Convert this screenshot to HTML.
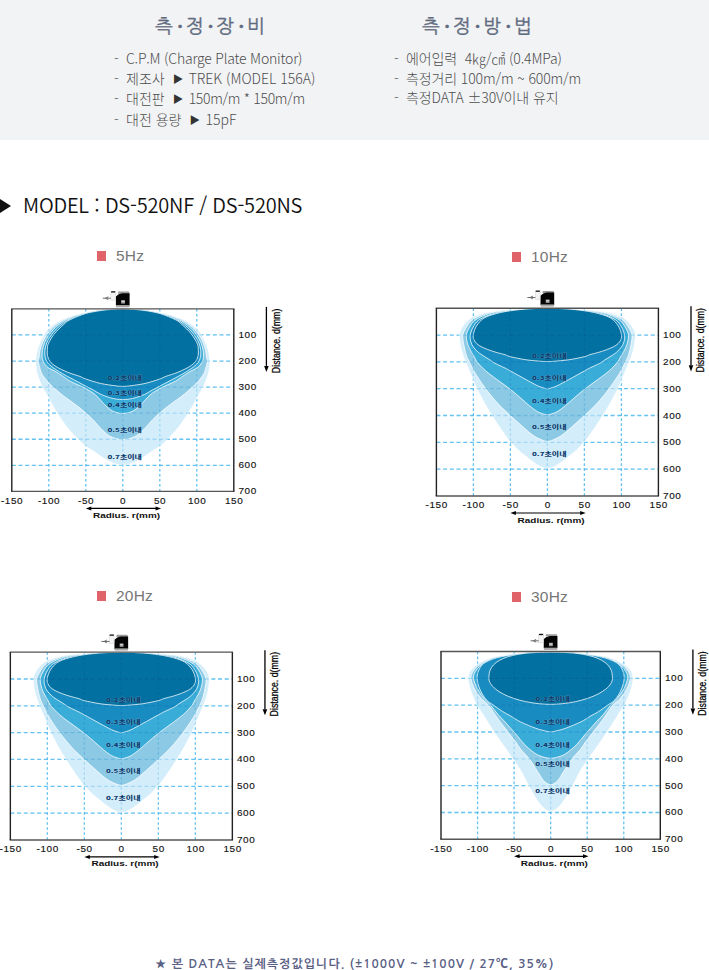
<!DOCTYPE html>
<html lang="ko">
<head>
<meta charset="utf-8">
<title>측정장비 / 측정방법 - DS-520NF / DS-520NS</title>
<style>
html,body{margin:0;padding:0;background:#fff;}
body{width:709px;height:970px;position:relative;overflow:hidden;font-family:"Liberation Sans","Noto Sans CJK KR",sans-serif;}
.band{position:absolute;left:0;top:0;width:709px;height:140px;background:#f2f3f5;}
.ttl{position:absolute;top:13px;font-family:"NanumGothic","Noto Sans CJK KR",sans-serif;font-weight:400;font-size:19px;line-height:28px;color:#5f6b7f;white-space:nowrap;-webkit-text-stroke:0.35px #5f6b7f;}
.ttl i{font-style:normal;display:inline-block;width:12.8px;text-align:center;font-size:15px;position:relative;top:-2px;}
.list{position:absolute;top:49px;margin:0;padding:0;list-style:none;font-family:"Noto Sans CJK KR",sans-serif;font-weight:300;font-size:14px;line-height:19.5px;color:#4d4d4d;white-space:nowrap;}
.list li{position:relative;padding-left:12px;}
.list li:before{content:"-";position:absolute;left:0;top:0;}
.list .ar{font-size:10.5px;display:inline-block;margin:0 5.5px 0 8px;position:relative;top:-1px;color:#333;}
.model{position:absolute;left:0;top:190px;font-family:"Noto Sans CJK KR",sans-serif;font-weight:350;font-size:20px;line-height:30px;color:#111;white-space:nowrap;letter-spacing:-0.2px;}
.model .tri{display:inline-block;width:0;height:0;border-top:7px solid transparent;border-bottom:7px solid transparent;border-left:11px solid #111;margin-right:12px;position:relative;top:0px;}
.hz{position:absolute;font-family:"Liberation Sans","Noto Sans CJK KR",sans-serif;font-size:15.5px;line-height:20px;color:#777;white-space:nowrap;letter-spacing:0.2px;}
.hz b{display:inline-block;width:9px;height:10px;background:#df6369;margin-right:10px;vertical-align:0px;}
.foot{position:absolute;left:155px;top:954.5px;font-family:"NanumGothic","Noto Sans CJK KR",sans-serif;font-weight:700;font-size:12px;line-height:18px;color:#596084;white-space:nowrap;letter-spacing:1.05px;}
svg{position:absolute;left:0;top:0;}
svg text.lbl{font-family:"Noto Sans CJK KR",sans-serif;font-weight:900;font-size:7px;fill:#0e3c6e;text-anchor:middle;stroke:#fff;stroke-width:0.8px;stroke-opacity:0.25;paint-order:stroke;}
svg text.tk{font-family:"Liberation Sans",sans-serif;font-weight:400;font-size:8.3px;fill:#111;stroke:#111;stroke-width:0.12px;letter-spacing:0.5px;}
svg text.ax{font-family:"Liberation Sans",sans-serif;font-weight:700;font-size:8px;fill:#111;}
svg text.ax2{font-family:"Liberation Sans",sans-serif;font-weight:400;font-size:10px;fill:#000;stroke:#000;stroke-width:0.25px;}
</style>
</head>
<body>
<div class="band"></div>
<div class="ttl" style="left:155px">측<i>•</i>정<i>•</i>장<i>•</i>비</div>
<div class="ttl" style="left:422px">측<i>•</i>정<i>•</i>방<i>•</i>법</div>
<ul class="list" style="left:114px">
<li style="letter-spacing:-0.2px">C.P.M (Charge Plate Monitor)</li>
<li>제조사<span class="ar">▶</span>TREK (MODEL 156A)</li>
<li>대전판<span class="ar">▶</span><span style="letter-spacing:-0.3px">150m/m * 150m/m</span></li>
<li>대전 용량<span class="ar">▶</span>15pF</li>
</ul>
<ul class="list" style="left:394px;letter-spacing:-0.12px">
<li>에어입력 &nbsp;4㎏/㎠ (0.4MPa)</li>
<li>측정거리 100m/m ~ 600m/m</li>
<li>측정DATA ±30V이내 유지</li>
</ul>
<div class="model"><span class="tri"></span>MODEL : DS-520NF / DS-520NS</div>
<div class="hz" style="left:97px;top:246px"><b></b>5Hz</div>
<div class="hz" style="left:512px;top:247px"><b></b>10Hz</div>
<div class="hz" style="left:97px;top:586px"><b></b>20Hz</div>
<div class="hz" style="left:512px;top:587px"><b></b>30Hz</div>
<svg width="709" height="970" viewBox="0 0 709 970">
<clipPath id="c1"><rect x="11.80" y="308.90" width="222.00" height="182.49"/></clipPath>
<g clip-path="url(#c1)">
<path d="M48.80,308.90 V491.39 M85.80,308.90 V491.39 M122.80,308.90 V491.39 M159.80,308.90 V491.39 M196.80,308.90 V491.39" stroke="#88d4f5" stroke-width="1.3" stroke-dasharray="2.7 2.3" fill="none"/><path d="M11.80,334.97 H233.80 M11.80,361.04 H233.80 M11.80,387.11 H233.80 M11.80,413.18 H233.80 M11.80,439.25 H233.80 M11.80,465.32 H233.80" stroke="#88d4f5" stroke-width="1.3" stroke-dasharray="4 2.7" fill="none"/>
<path d="M122.80,308.64 C115.40,308.64 107.73,309.13 100.60,309.94 C93.47,310.75 84.87,312.50 80.03,313.49 C75.18,314.48 74.87,314.71 71.52,315.89 C68.16,317.06 63.66,318.45 59.90,320.53 C56.14,322.60 51.66,325.74 48.95,328.32 C46.23,330.90 45.35,333.05 43.62,336.01 C41.89,338.98 39.87,342.47 38.59,346.10 C37.31,349.73 36.39,354.67 35.92,357.81 C35.46,360.95 35.53,362.20 35.78,364.95 C36.02,367.71 36.34,370.69 37.40,374.34 C38.46,377.99 40.49,383.33 42.14,386.85 C43.79,390.37 45.65,392.50 47.32,395.45 C48.98,398.41 50.48,401.62 52.13,404.58 C53.78,407.53 55.10,409.88 57.24,413.18 C59.37,416.48 62.35,420.96 64.93,424.39 C67.51,427.82 69.47,430.30 72.70,433.78 C75.93,437.25 80.89,442.38 84.32,445.25 C87.75,448.11 90.50,449.11 93.27,450.98 C96.05,452.85 98.38,454.76 100.97,456.46 C103.56,458.15 106.22,459.86 108.81,461.15 C111.40,462.44 114.18,463.55 116.51,464.20 C118.84,464.85 120.70,465.06 122.80,465.06 C124.90,465.06 126.76,464.85 129.09,464.20 C131.42,463.55 134.20,462.44 136.79,461.15 C139.38,459.86 142.04,458.15 144.63,456.46 C147.22,454.76 149.55,452.85 152.33,450.98 C155.10,449.11 157.85,448.11 161.28,445.25 C164.71,442.38 169.67,437.25 172.90,433.78 C176.13,430.30 178.09,427.82 180.67,424.39 C183.25,420.96 186.23,416.48 188.36,413.18 C190.50,409.88 191.82,407.53 193.47,404.58 C195.12,401.62 196.62,398.41 198.28,395.45 C199.94,392.50 201.81,390.37 203.46,386.85 C205.11,383.33 207.14,377.99 208.20,374.34 C209.26,370.69 209.58,367.71 209.82,364.95 C210.07,362.20 210.14,360.95 209.68,357.81 C209.21,354.67 208.29,349.73 207.01,346.10 C205.73,342.47 203.71,338.98 201.98,336.01 C200.25,333.05 199.37,330.90 196.65,328.32 C193.94,325.74 189.46,322.60 185.70,320.53 C181.94,318.45 177.44,317.06 174.08,315.89 C170.73,314.71 170.42,314.48 165.57,313.49 C160.72,312.50 152.13,310.75 145.00,309.94 C137.87,309.13 130.20,308.64 122.80,308.64 Z" fill="#d4edfa" stroke="#fff" stroke-opacity="0.9" stroke-width="0.85"/>
<path d="M122.80,308.64 C115.40,308.64 107.83,309.16 100.60,310.07 C93.37,310.99 85.35,312.57 79.41,314.11 C73.47,315.66 69.33,317.16 64.96,319.33 C60.60,321.50 56.26,324.54 53.22,327.15 C50.17,329.76 48.49,332.36 46.69,334.97 C44.89,337.58 43.52,340.18 42.41,342.79 C41.29,345.40 40.55,348.22 40.00,350.61 C39.45,353.00 39.41,355.39 39.11,357.13 C38.82,358.87 38.08,359.17 38.22,361.04 C38.35,362.91 39.27,366.12 39.92,368.34 C40.57,370.56 40.88,372.16 42.14,374.34 C43.40,376.51 45.68,379.29 47.47,381.37 C49.26,383.46 50.16,384.39 52.87,386.85 C55.58,389.30 59.99,393.15 63.75,396.10 C67.51,399.06 71.81,401.82 75.44,404.58 C79.07,407.34 82.53,410.10 85.50,412.66 C88.48,415.22 90.70,417.31 93.27,419.96 C95.85,422.61 98.38,425.97 100.97,428.56 C103.56,431.15 106.22,433.82 108.81,435.50 C111.40,437.17 114.18,437.95 116.51,438.60 C118.84,439.25 120.70,439.41 122.80,439.41 C124.90,439.41 126.76,439.25 129.09,438.60 C131.42,437.95 134.20,437.17 136.79,435.50 C139.38,433.82 142.04,431.15 144.63,428.56 C147.22,425.97 149.75,422.61 152.33,419.96 C154.90,417.31 157.12,415.22 160.10,412.66 C163.07,410.10 166.53,407.34 170.16,404.58 C173.79,401.82 178.09,399.06 181.85,396.10 C185.61,393.15 190.02,389.30 192.73,386.85 C195.44,384.39 196.34,383.46 198.13,381.37 C199.92,379.29 202.20,376.51 203.46,374.34 C204.72,372.16 205.03,370.56 205.68,368.34 C206.33,366.12 207.25,362.91 207.38,361.04 C207.52,359.17 206.78,358.87 206.49,357.13 C206.19,355.39 206.15,353.00 205.60,350.61 C205.05,348.22 204.31,345.40 203.19,342.79 C202.08,340.18 200.71,337.58 198.91,334.97 C197.11,332.36 195.43,329.76 192.38,327.15 C189.34,324.54 185.00,321.50 180.64,319.33 C176.27,317.16 172.13,315.66 166.19,314.11 C160.25,312.57 152.23,310.99 145.00,310.07 C137.77,309.16 130.20,308.64 122.80,308.64 Z" fill="#8cc9e5" stroke="#fff" stroke-opacity="0.9" stroke-width="0.85"/>
<path d="M122.80,308.64 C115.40,308.64 107.57,309.29 100.60,310.20 C93.63,311.12 86.60,312.59 81.00,314.11 C75.41,315.63 71.22,317.16 67.02,319.33 C62.83,321.50 58.84,324.54 55.84,327.15 C52.84,329.76 50.91,332.36 49.03,334.97 C47.16,337.58 45.67,340.18 44.57,342.79 C43.47,345.40 42.84,348.22 42.44,350.61 C42.04,353.00 41.95,355.17 42.15,357.13 C42.35,359.08 42.63,360.61 43.62,362.34 C44.61,364.08 46.00,365.99 48.06,367.56 C50.12,369.12 53.39,370.21 55.98,371.73 C58.57,373.25 61.27,375.12 63.60,376.68 C65.93,378.25 67.50,379.72 69.96,381.11 C72.43,382.50 75.81,383.81 78.40,385.02 C80.99,386.24 82.64,386.76 85.50,388.41 C88.37,390.06 92.34,392.19 95.57,394.93 C98.80,397.67 102.03,402.14 104.89,404.84 C107.75,407.53 109.75,409.66 112.74,411.09 C115.72,412.53 119.45,413.44 122.80,413.44 C126.15,413.44 129.88,412.53 132.86,411.09 C135.85,409.66 137.85,407.53 140.71,404.84 C143.57,402.14 146.80,397.67 150.03,394.93 C153.26,392.19 157.23,390.06 160.10,388.41 C162.96,386.76 164.61,386.24 167.20,385.02 C169.79,383.81 173.17,382.50 175.64,381.11 C178.10,379.72 179.67,378.25 182.00,376.68 C184.33,375.12 187.03,373.25 189.62,371.73 C192.21,370.21 195.48,369.12 197.54,367.56 C199.60,365.99 200.99,364.08 201.98,362.34 C202.97,360.61 203.25,359.08 203.45,357.13 C203.65,355.17 203.56,353.00 203.16,350.61 C202.76,348.22 202.13,345.40 201.03,342.79 C199.93,340.18 198.44,337.58 196.57,334.97 C194.69,332.36 192.76,329.76 189.76,327.15 C186.76,324.54 182.77,321.50 178.58,319.33 C174.38,317.16 170.19,315.63 164.60,314.11 C159.00,312.59 151.97,311.12 145.00,310.20 C138.03,309.29 130.20,308.64 122.80,308.64 Z" fill="#3aacd8" stroke="#fff" stroke-opacity="0.9" stroke-width="0.85"/>
<path d="M122.80,308.64 C115.40,308.64 107.30,309.45 100.60,310.36 C93.90,311.27 87.85,312.62 82.60,314.11 C77.35,315.61 73.10,317.16 69.08,319.33 C65.06,321.50 61.41,324.54 58.46,327.15 C55.51,329.76 53.33,332.36 51.38,334.97 C49.43,337.58 47.82,340.18 46.74,342.79 C45.66,345.40 45.14,348.22 44.88,350.61 C44.62,353.00 44.78,355.17 45.19,357.13 C45.59,359.08 46.35,360.87 47.32,362.34 C48.29,363.82 49.58,364.78 51.02,365.99 C52.46,367.21 54.00,368.34 55.98,369.64 C57.95,370.95 60.53,372.47 62.86,373.81 C65.19,375.16 67.37,376.33 69.96,377.72 C72.55,379.12 75.76,380.77 78.40,382.16 C81.04,383.55 83.33,384.76 85.80,386.07 C88.27,387.37 90.67,388.59 93.20,389.98 C95.73,391.37 98.26,393.15 100.97,394.41 C103.68,395.67 106.89,396.76 109.48,397.54 C112.07,398.32 114.29,398.78 116.51,399.10 C118.73,399.43 120.70,399.49 122.80,399.49 C124.90,399.49 126.87,399.43 129.09,399.10 C131.31,398.78 133.53,398.32 136.12,397.54 C138.71,396.76 141.92,395.67 144.63,394.41 C147.34,393.15 149.87,391.37 152.40,389.98 C154.93,388.59 157.33,387.37 159.80,386.07 C162.27,384.76 164.56,383.55 167.20,382.16 C169.84,380.77 173.05,379.12 175.64,377.72 C178.23,376.33 180.41,375.16 182.74,373.81 C185.07,372.47 187.65,370.95 189.62,369.64 C191.60,368.34 193.14,367.21 194.58,365.99 C196.02,364.78 197.31,363.82 198.28,362.34 C199.25,360.87 200.01,359.08 200.41,357.13 C200.82,355.17 200.98,353.00 200.72,350.61 C200.46,348.22 199.94,345.40 198.86,342.79 C197.78,340.18 196.17,337.58 194.22,334.97 C192.27,332.36 190.09,329.76 187.14,327.15 C184.19,324.54 180.54,321.50 176.52,319.33 C172.50,317.16 168.25,315.61 163.00,314.11 C157.75,312.62 151.70,311.27 145.00,310.36 C138.30,309.45 130.20,308.64 122.80,308.64 Z" fill="#188bc0" stroke="#fff" stroke-opacity="0.9" stroke-width="0.85"/>
<path d="M122.80,308.98 C119.10,308.98 115.40,309.15 111.70,309.42 C108.00,309.69 104.97,309.90 100.60,310.59 C96.23,311.29 90.61,312.06 85.50,313.59 C80.40,315.13 73.58,317.99 69.96,319.80 C66.35,321.60 66.40,322.09 63.82,324.41 C61.24,326.73 57.09,330.49 54.50,333.72 C51.91,336.95 49.48,340.99 48.28,343.81 C47.09,346.62 47.46,348.70 47.32,350.61 C47.18,352.53 47.05,353.54 47.47,355.30 C47.89,357.07 48.42,359.33 49.84,361.20 C51.25,363.06 53.01,364.67 55.98,366.51 C58.95,368.36 63.69,370.60 67.67,372.25 C71.65,373.90 76.86,375.29 79.88,376.42 C82.90,377.55 82.35,377.86 85.80,379.03 C89.25,380.20 95.54,382.31 100.60,383.46 C105.66,384.61 112.44,385.43 116.14,385.91 C119.84,386.39 120.58,386.33 122.80,386.33 C125.02,386.33 125.76,386.39 129.46,385.91 C133.16,385.43 139.94,384.61 145.00,383.46 C150.06,382.31 156.35,380.20 159.80,379.03 C163.25,377.86 162.70,377.55 165.72,376.42 C168.74,375.29 173.95,373.90 177.93,372.25 C181.91,370.60 186.65,368.36 189.62,366.51 C192.59,364.67 194.35,363.06 195.76,361.20 C197.18,359.33 197.71,357.07 198.13,355.30 C198.55,353.54 198.42,352.53 198.28,350.61 C198.14,348.70 198.51,346.62 197.32,343.81 C196.12,340.99 193.69,336.95 191.10,333.72 C188.51,330.49 184.36,326.73 181.78,324.41 C179.20,322.09 179.25,321.60 175.64,319.80 C172.02,317.99 165.20,315.13 160.10,313.59 C154.99,312.06 149.37,311.29 145.00,310.59 C140.63,309.90 137.60,309.69 133.90,309.42 C130.20,309.15 126.50,308.98 122.80,308.98 Z" fill="#0270a0" stroke="#fff" stroke-opacity="0.9" stroke-width="0.85"/>
<path d="M48.80,308.90 V491.39 M85.80,308.90 V491.39 M122.80,308.90 V491.39 M159.80,308.90 V491.39 M196.80,308.90 V491.39" stroke="#88d4f5" stroke-width="1.3" stroke-dasharray="2.7 2.3" fill="none" opacity="0.5" style="mix-blend-mode:multiply"/><path d="M11.80,334.97 H233.80 M11.80,361.04 H233.80 M11.80,387.11 H233.80 M11.80,413.18 H233.80 M11.80,439.25 H233.80 M11.80,465.32 H233.80" stroke="#88d4f5" stroke-width="1.3" stroke-dasharray="4 2.7" fill="none" opacity="0.5" style="mix-blend-mode:multiply"/>
</g>
<text class="lbl" transform="translate(124.65,379.70) scale(1.14,0.74)">0.2초이내</text>
<text class="lbl" transform="translate(124.65,394.56) scale(1.14,0.74)">0.3초이내</text>
<text class="lbl" transform="translate(124.65,406.56) scale(1.14,0.74)">0.4초이내</text>
<text class="lbl" transform="translate(124.65,432.36) scale(1.14,0.74)">0.5초이내</text>
<text class="lbl" transform="translate(124.65,458.70) scale(1.14,0.74)">0.7초이내</text>
<path d="M11.10,308.90 H234.50" stroke="#555" stroke-width="1.4"/>
<path d="M11.10,491.39 H234.50" stroke="#555" stroke-width="1.4"/>
<path d="M11.80,308.90 V491.39" stroke="#222" stroke-width="1.4"/>
<path d="M233.80,308.90 V491.39" stroke="#222" stroke-width="1.4"/>
<text class="tk" text-anchor="middle" transform="translate(12.10,503.79) scale(1.2,1)">-150</text>
<text class="tk" text-anchor="middle" transform="translate(49.10,503.79) scale(1.2,1)">-100</text>
<text class="tk" text-anchor="middle" transform="translate(86.10,503.79) scale(1.2,1)">-50</text>
<text class="tk" text-anchor="middle" transform="translate(123.10,503.79) scale(1.2,1)">0</text>
<text class="tk" text-anchor="middle" transform="translate(160.10,503.79) scale(1.2,1)">50</text>
<text class="tk" text-anchor="middle" transform="translate(197.10,503.79) scale(1.2,1)">100</text>
<text class="tk" text-anchor="middle" transform="translate(234.10,503.79) scale(1.2,1)">150</text>
<text class="tk" transform="translate(238.40,337.97) scale(1.2,1)">100</text>
<text class="tk" transform="translate(238.40,364.04) scale(1.2,1)">200</text>
<text class="tk" transform="translate(238.40,390.11) scale(1.2,1)">300</text>
<text class="tk" transform="translate(238.40,416.18) scale(1.2,1)">400</text>
<text class="tk" transform="translate(238.40,442.25) scale(1.2,1)">500</text>
<text class="tk" transform="translate(238.40,468.32) scale(1.2,1)">600</text>
<text class="tk" transform="translate(238.40,494.39) scale(1.2,1)">700</text>
<path d="M88.80,508.39 H157.80" stroke="#000" stroke-width="1.2"/>
<path d="M85.80,508.39 l5.5,-2 v4 Z M161.10,508.39 l-5.5,-2 v4 Z" fill="#000"/>
<text class="ax" transform="translate(126.50,517.89) scale(1.25,1)" text-anchor="middle">Radius. r(mm)</text>
<path d="M266.40,306.90 V365.90" stroke="#000" stroke-width="1.3"/>
<path d="M266.40,372.10 l-2.3,-6.2 h4.6 Z" fill="#000"/>
<text class="ax2" transform="translate(279.80,340.90) rotate(-90) scale(0.88,1)" text-anchor="middle">Distance. d(mm)</text>
<g transform="translate(122.80,308.90)">
<path d="M-4.6,-17.3 H6.2 L6.6,-15.2 H-5 Z" fill="#9a9a9a"/>
<path d="M-6.9,-12.4 L-4.2,-14.6 L-0.8,-15.6 H6.8 V-3.2 H-6.9 Z" fill="#050505"/>
<rect x="-6.7" y="-3.8" width="13.2" height="2.2" fill="#a8a8a8"/>
<rect x="-1.7" y="-8.7" width="3.9" height="3.4" fill="#9a9a9a"/>
<rect x="-1.1" y="-8.1" width="2.7" height="1.2" fill="#dcdcdc"/>
<rect x="-11.9" y="-16.6" width="4.6" height="7.9" fill="#f3f3f3" stroke="#c8c8c8" stroke-width="0.4"/>
<rect x="-11.7" y="-17.7" width="4.2" height="1.3" fill="#111"/>
<path d="M-20,-10.7 H-12 M-14.5,-12.1 L-17.2,-10.7 L-14.5,-9.3" stroke="#6a6a6a" stroke-width="1" fill="none"/>
</g>
<clipPath id="c2"><rect x="436.40" y="308.20" width="222.00" height="187.81"/></clipPath>
<g clip-path="url(#c2)">
<path d="M473.40,308.20 V496.01 M510.40,308.20 V496.01 M547.40,308.20 V496.01 M584.40,308.20 V496.01 M621.40,308.20 V496.01" stroke="#88d4f5" stroke-width="1.3" stroke-dasharray="2.7 2.3" fill="none"/><path d="M436.40,335.03 H658.40 M436.40,361.86 H658.40 M436.40,388.69 H658.40 M436.40,415.52 H658.40 M436.40,442.35 H658.40 M436.40,469.18 H658.40" stroke="#88d4f5" stroke-width="1.3" stroke-dasharray="4 2.7" fill="none"/>
<path d="M547.40,307.93 C540.00,307.93 531.37,308.71 525.20,309.00 C519.03,309.30 515.19,309.38 510.40,309.68 C505.61,309.98 500.74,310.28 496.49,310.80 C492.23,311.32 488.73,311.82 484.87,312.79 C481.01,313.75 476.56,314.93 473.33,316.60 C470.09,318.27 467.50,320.71 465.48,322.80 C463.46,324.88 462.21,327.11 461.19,329.13 C460.17,331.14 459.46,332.12 459.34,334.90 C459.22,337.67 459.86,342.43 460.45,345.76 C461.04,349.09 462.03,352.18 462.89,354.88 C463.76,357.59 464.30,358.74 465.63,361.99 C466.96,365.25 469.02,369.97 470.88,374.39 C472.75,378.81 475.25,385.07 476.80,388.50 C478.36,391.94 478.74,392.23 480.21,395.00 C481.68,397.76 483.67,401.72 485.61,405.11 C487.55,408.50 489.63,411.83 491.83,415.31 C494.02,418.78 496.34,422.38 498.78,425.98 C501.22,429.58 504.53,434.27 506.48,436.90 C508.43,439.54 508.50,439.61 510.47,441.81 C512.45,444.02 515.73,447.72 518.32,450.13 C520.91,452.55 523.44,454.24 526.01,456.30 C528.59,458.36 531.21,460.68 533.78,462.47 C536.36,464.26 539.21,466.05 541.48,467.03 C543.75,468.02 545.43,468.38 547.40,468.38 C549.37,468.38 551.05,468.02 553.32,467.03 C555.59,466.05 558.44,464.26 561.02,462.47 C563.59,460.68 566.21,458.36 568.79,456.30 C571.36,454.24 573.89,452.55 576.48,450.13 C579.07,447.72 582.35,444.02 584.33,441.81 C586.30,439.61 586.37,439.54 588.32,436.90 C590.27,434.27 593.58,429.58 596.02,425.98 C598.46,422.38 600.78,418.78 602.97,415.31 C605.17,411.83 607.25,408.50 609.19,405.11 C611.13,401.72 613.12,397.76 614.59,395.00 C616.06,392.23 616.44,391.94 618.00,388.50 C619.55,385.07 622.05,378.81 623.92,374.39 C625.78,369.97 627.84,365.25 629.17,361.99 C630.50,358.74 631.04,357.59 631.91,354.88 C632.77,352.18 633.76,349.09 634.35,345.76 C634.94,342.43 635.58,337.67 635.46,334.90 C635.34,332.12 634.63,331.14 633.61,329.13 C632.59,327.11 631.34,324.88 629.32,322.80 C627.30,320.71 624.71,318.27 621.47,316.60 C618.24,314.93 613.79,313.75 609.93,312.79 C606.07,311.82 602.57,311.32 598.31,310.80 C594.06,310.28 589.19,309.98 584.40,309.68 C579.61,309.38 575.77,309.30 569.60,309.00 C563.43,308.71 554.80,307.93 547.40,307.93 Z" fill="#d4edfa" stroke="#fff" stroke-opacity="0.9" stroke-width="0.85"/>
<path d="M547.40,307.93 C540.00,307.93 533.78,308.50 525.20,309.09 C516.62,309.67 503.11,310.45 495.91,311.42 C488.70,312.39 485.99,313.43 481.98,314.91 C477.97,316.38 474.43,318.26 471.85,320.27 C469.28,322.29 468.02,324.52 466.52,326.98 C465.02,329.44 463.31,332.12 462.85,335.03 C462.39,337.94 463.21,341.09 463.78,344.42 C464.35,347.75 465.36,352.06 466.30,354.99 C467.23,357.92 467.85,358.84 469.40,361.99 C470.96,365.15 473.23,369.93 475.62,373.93 C478.01,377.94 481.17,382.38 483.76,386.01 C486.35,389.63 488.45,392.36 491.16,395.67 C493.87,398.97 496.83,402.55 500.04,405.86 C503.25,409.17 506.70,412.12 510.40,415.52 C514.10,418.92 518.34,422.87 522.24,426.25 C526.14,429.63 530.31,433.45 533.78,435.80 C537.26,438.16 540.84,439.49 543.11,440.39 C545.38,441.29 545.97,441.20 547.40,441.20 C548.83,441.20 549.42,441.29 551.69,440.39 C553.96,439.49 557.54,438.16 561.02,435.80 C564.49,433.45 568.66,429.63 572.56,426.25 C576.46,422.87 580.70,418.92 584.40,415.52 C588.10,412.12 591.55,409.17 594.76,405.86 C597.97,402.55 600.93,398.97 603.64,395.67 C606.35,392.36 608.45,389.63 611.04,386.01 C613.63,382.38 616.79,377.94 619.18,373.93 C621.57,369.93 623.84,365.15 625.40,361.99 C626.95,358.84 627.57,357.92 628.50,354.99 C629.44,352.06 630.45,347.75 631.02,344.42 C631.59,341.09 632.41,337.94 631.95,335.03 C631.49,332.12 629.78,329.44 628.28,326.98 C626.78,324.52 625.52,322.29 622.95,320.27 C620.37,318.26 616.83,316.38 612.82,314.91 C608.81,313.43 606.10,312.39 598.89,311.42 C591.69,310.45 578.18,309.67 569.60,309.09 C561.02,308.50 554.80,307.93 547.40,307.93 Z" fill="#8cc9e5" stroke="#fff" stroke-opacity="0.9" stroke-width="0.85"/>
<path d="M547.40,307.93 C540.00,307.93 533.28,308.58 525.20,309.17 C517.12,309.75 505.55,310.46 498.94,311.42 C492.32,312.38 489.49,313.43 485.51,314.91 C481.52,316.38 477.67,318.26 475.03,320.27 C472.39,322.29 471.13,324.52 469.69,326.98 C468.24,329.44 466.65,332.12 466.35,335.03 C466.04,337.94 467.04,341.65 467.85,344.42 C468.66,347.19 470.27,349.90 471.18,351.66 C472.09,353.43 472.33,353.27 473.33,354.99 C474.32,356.71 475.19,359.42 477.17,361.99 C479.16,364.57 482.42,367.87 485.24,370.45 C488.06,373.02 491.16,375.19 494.12,377.42 C497.08,379.66 500.04,381.67 503.00,383.86 C505.96,386.05 508.92,388.20 511.88,390.57 C514.84,392.94 517.80,395.53 520.76,398.08 C523.72,400.63 526.80,403.58 529.64,405.86 C532.48,408.14 535.19,410.33 537.78,411.76 C540.37,413.19 543.58,413.98 545.18,414.45 C546.78,414.92 546.66,414.58 547.40,414.58 C548.14,414.58 548.02,414.92 549.62,414.45 C551.22,413.98 554.43,413.19 557.02,411.76 C559.61,410.33 562.32,408.14 565.16,405.86 C568.00,403.58 571.08,400.63 574.04,398.08 C577.00,395.53 579.96,392.94 582.92,390.57 C585.88,388.20 588.84,386.05 591.80,383.86 C594.76,381.67 597.72,379.66 600.68,377.42 C603.64,375.19 606.74,373.02 609.56,370.45 C612.38,367.87 615.64,364.57 617.63,361.99 C619.61,359.42 620.47,356.71 621.47,354.99 C622.47,353.27 622.71,353.43 623.62,351.66 C624.53,349.90 626.14,347.19 626.95,344.42 C627.76,341.65 628.76,337.94 628.45,335.03 C628.15,332.12 626.56,329.44 625.11,326.98 C623.67,324.52 622.41,322.29 619.77,320.27 C617.13,318.26 613.28,316.38 609.29,314.91 C605.31,313.43 602.48,312.38 595.86,311.42 C589.25,310.46 577.68,309.75 569.60,309.17 C561.52,308.58 554.80,307.93 547.40,307.93 Z" fill="#3aacd8" stroke="#fff" stroke-opacity="0.9" stroke-width="0.85"/>
<path d="M547.40,307.93 C540.00,307.93 532.71,308.67 525.20,309.25 C517.69,309.83 508.29,310.48 502.33,311.42 C496.37,312.36 493.41,313.43 489.46,314.91 C485.50,316.38 481.29,318.26 478.59,320.27 C475.88,322.29 474.62,324.52 473.23,326.98 C471.84,329.44 470.67,332.57 470.27,335.03 C469.86,337.49 470.29,339.73 470.81,341.74 C471.33,343.75 472.35,345.54 473.40,347.10 C474.45,348.67 475.83,349.92 477.10,351.13 C478.37,352.34 479.07,353.01 481.02,354.35 C482.97,355.69 486.46,357.68 488.79,359.18 C491.12,360.67 492.31,361.83 495.01,363.31 C497.71,364.78 502.42,366.75 505.00,368.03 C507.58,369.31 506.97,369.05 510.47,370.98 C513.98,372.91 521.48,377.13 526.01,379.59 C530.55,382.06 534.47,384.31 537.71,385.79 C540.94,387.28 543.79,387.98 545.40,388.50 C547.02,389.02 546.73,388.90 547.40,388.90 C548.07,388.90 547.78,389.02 549.40,388.50 C551.01,387.98 553.86,387.28 557.09,385.79 C560.33,384.31 564.25,382.06 568.79,379.59 C573.32,377.13 580.82,372.91 584.33,370.98 C587.83,369.05 587.22,369.31 589.80,368.03 C592.38,366.75 597.09,364.78 599.79,363.31 C602.49,361.83 603.68,360.67 606.01,359.18 C608.34,357.68 611.83,355.69 613.78,354.35 C615.73,353.01 616.43,352.34 617.70,351.13 C618.97,349.92 620.35,348.67 621.40,347.10 C622.45,345.54 623.47,343.75 623.99,341.74 C624.51,339.73 624.94,337.49 624.53,335.03 C624.13,332.57 622.96,329.44 621.57,326.98 C620.18,324.52 618.92,322.29 616.21,320.27 C613.51,318.26 609.30,316.38 605.34,314.91 C601.39,313.43 598.43,312.36 592.47,311.42 C586.51,310.48 577.11,309.83 569.60,309.25 C562.09,308.67 554.80,307.93 547.40,307.93 Z" fill="#188bc0" stroke="#fff" stroke-opacity="0.9" stroke-width="0.85"/>
<path d="M547.40,308.28 C540.00,308.28 532.27,308.58 525.20,309.14 C518.13,309.70 511.07,310.51 505.00,311.63 C498.93,312.76 492.79,314.42 488.79,315.90 C484.80,317.38 483.22,318.56 481.02,320.49 C478.83,322.42 476.90,325.09 475.62,327.49 C474.34,329.89 473.60,332.83 473.33,334.90 C473.05,336.96 473.23,338.24 473.99,339.86 C474.76,341.48 476.10,343.19 477.91,344.61 C479.73,346.03 482.02,347.16 484.87,348.39 C487.72,349.63 491.65,350.96 495.01,352.01 C498.36,353.06 502.42,353.91 505.00,354.70 C507.58,355.48 506.97,355.86 510.47,356.71 C513.98,357.56 520.85,359.03 526.01,359.79 C531.18,360.56 537.92,361.00 541.48,361.30 C545.04,361.60 545.43,361.59 547.40,361.59 C549.37,361.59 549.76,361.60 553.32,361.30 C556.88,361.00 563.62,360.56 568.79,359.79 C573.95,359.03 580.82,357.56 584.33,356.71 C587.83,355.86 587.22,355.48 589.80,354.70 C592.38,353.91 596.44,353.06 599.79,352.01 C603.15,350.96 607.08,349.63 609.93,348.39 C612.78,347.16 615.07,346.03 616.89,344.61 C618.70,343.19 620.04,341.48 620.81,339.86 C621.57,338.24 621.75,336.96 621.47,334.90 C621.20,332.83 620.46,329.89 619.18,327.49 C617.90,325.09 615.97,322.42 613.78,320.49 C611.58,318.56 610.00,317.38 606.01,315.90 C602.01,314.42 595.87,312.76 589.80,311.63 C583.73,310.51 576.67,309.70 569.60,309.14 C562.53,308.58 554.80,308.28 547.40,308.28 Z" fill="#0270a0" stroke="#fff" stroke-opacity="0.9" stroke-width="0.85"/>
<path d="M473.40,308.20 V496.01 M510.40,308.20 V496.01 M547.40,308.20 V496.01 M584.40,308.20 V496.01 M621.40,308.20 V496.01" stroke="#88d4f5" stroke-width="1.3" stroke-dasharray="2.7 2.3" fill="none" opacity="0.5" style="mix-blend-mode:multiply"/><path d="M436.40,335.03 H658.40 M436.40,361.86 H658.40 M436.40,388.69 H658.40 M436.40,415.52 H658.40 M436.40,442.35 H658.40 M436.40,469.18 H658.40" stroke="#88d4f5" stroke-width="1.3" stroke-dasharray="4 2.7" fill="none" opacity="0.5" style="mix-blend-mode:multiply"/>
</g>
<text class="lbl" transform="translate(549.25,357.92) scale(1.14,0.74)">0.2초이내</text>
<text class="lbl" transform="translate(549.25,380.19) scale(1.14,0.74)">0.3초이내</text>
<text class="lbl" transform="translate(549.25,402.73) scale(1.14,0.74)">0.4초이내</text>
<text class="lbl" transform="translate(549.25,429.02) scale(1.14,0.74)">0.5초이내</text>
<text class="lbl" transform="translate(549.25,456.12) scale(1.14,0.74)">0.7초이내</text>
<path d="M435.70,308.20 H659.10" stroke="#555" stroke-width="1.4"/>
<path d="M435.70,496.01 H659.10" stroke="#555" stroke-width="1.4"/>
<path d="M436.40,308.20 V496.01" stroke="#222" stroke-width="1.4"/>
<path d="M658.40,308.20 V496.01" stroke="#222" stroke-width="1.4"/>
<text class="tk" text-anchor="middle" transform="translate(436.70,508.41) scale(1.2,1)">-150</text>
<text class="tk" text-anchor="middle" transform="translate(473.70,508.41) scale(1.2,1)">-100</text>
<text class="tk" text-anchor="middle" transform="translate(510.70,508.41) scale(1.2,1)">-50</text>
<text class="tk" text-anchor="middle" transform="translate(547.70,508.41) scale(1.2,1)">0</text>
<text class="tk" text-anchor="middle" transform="translate(584.70,508.41) scale(1.2,1)">50</text>
<text class="tk" text-anchor="middle" transform="translate(621.70,508.41) scale(1.2,1)">100</text>
<text class="tk" text-anchor="middle" transform="translate(658.70,508.41) scale(1.2,1)">150</text>
<text class="tk" transform="translate(663.00,338.03) scale(1.2,1)">100</text>
<text class="tk" transform="translate(663.00,364.86) scale(1.2,1)">200</text>
<text class="tk" transform="translate(663.00,391.69) scale(1.2,1)">300</text>
<text class="tk" transform="translate(663.00,418.52) scale(1.2,1)">400</text>
<text class="tk" transform="translate(663.00,445.35) scale(1.2,1)">500</text>
<text class="tk" transform="translate(663.00,472.18) scale(1.2,1)">600</text>
<text class="tk" transform="translate(663.00,499.01) scale(1.2,1)">700</text>
<path d="M513.40,513.01 H582.40" stroke="#000" stroke-width="1.2"/>
<path d="M510.40,513.01 l5.5,-2 v4 Z M585.70,513.01 l-5.5,-2 v4 Z" fill="#000"/>
<text class="ax" transform="translate(551.10,522.51) scale(1.25,1)" text-anchor="middle">Radius. r(mm)</text>
<path d="M691.00,306.20 V365.20" stroke="#000" stroke-width="1.3"/>
<path d="M691.00,371.40 l-2.3,-6.2 h4.6 Z" fill="#000"/>
<text class="ax2" transform="translate(704.40,340.20) rotate(-90) scale(0.88,1)" text-anchor="middle">Distance. d(mm)</text>
<g transform="translate(547.40,308.20)">
<path d="M-4.6,-17.3 H6.2 L6.6,-15.2 H-5 Z" fill="#9a9a9a"/>
<path d="M-6.9,-12.4 L-4.2,-14.6 L-0.8,-15.6 H6.8 V-3.2 H-6.9 Z" fill="#050505"/>
<rect x="-6.7" y="-3.8" width="13.2" height="2.2" fill="#a8a8a8"/>
<rect x="-1.7" y="-8.7" width="3.9" height="3.4" fill="#9a9a9a"/>
<rect x="-1.1" y="-8.1" width="2.7" height="1.2" fill="#dcdcdc"/>
<rect x="-11.9" y="-16.6" width="4.6" height="7.9" fill="#f3f3f3" stroke="#c8c8c8" stroke-width="0.4"/>
<rect x="-11.7" y="-17.7" width="4.2" height="1.3" fill="#111"/>
<path d="M-20,-10.7 H-12 M-14.5,-12.1 L-17.2,-10.7 L-14.5,-9.3" stroke="#6a6a6a" stroke-width="1" fill="none"/>
</g>
<clipPath id="c3"><rect x="10.35" y="652.15" width="222.00" height="187.81"/></clipPath>
<g clip-path="url(#c3)">
<path d="M47.35,652.15 V839.96 M84.35,652.15 V839.96 M121.35,652.15 V839.96 M158.35,652.15 V839.96 M195.35,652.15 V839.96" stroke="#88d4f5" stroke-width="1.3" stroke-dasharray="2.7 2.3" fill="none"/><path d="M10.35,678.98 H232.35 M10.35,705.81 H232.35 M10.35,732.64 H232.35 M10.35,759.47 H232.35 M10.35,786.30 H232.35 M10.35,813.13 H232.35" stroke="#88d4f5" stroke-width="1.3" stroke-dasharray="4 2.7" fill="none"/>
<path d="M121.35,651.88 C113.95,651.88 105.32,652.66 99.15,652.95 C92.98,653.25 89.14,653.33 84.35,653.63 C79.56,653.93 74.69,654.23 70.44,654.75 C66.18,655.27 62.68,655.77 58.82,656.74 C54.96,657.70 50.51,658.88 47.28,660.55 C44.04,662.22 41.45,664.66 39.43,666.75 C37.41,668.83 36.16,671.06 35.14,673.08 C34.12,675.09 33.41,676.07 33.29,678.85 C33.17,681.62 33.81,686.38 34.40,689.71 C34.99,693.04 35.98,696.13 36.84,698.83 C37.71,701.54 38.25,702.69 39.58,705.94 C40.91,709.20 42.97,713.92 44.83,718.34 C46.70,722.76 49.20,729.02 50.75,732.45 C52.31,735.89 52.69,736.18 54.16,738.95 C55.63,741.71 57.62,745.67 59.56,749.06 C61.50,752.45 63.58,755.78 65.78,759.26 C67.97,762.73 70.29,766.33 72.73,769.93 C75.17,773.53 78.48,778.22 80.43,780.85 C82.38,783.49 82.45,783.56 84.42,785.76 C86.40,787.97 89.68,791.67 92.27,794.08 C94.86,796.50 97.39,798.19 99.96,800.25 C102.54,802.31 105.16,804.63 107.73,806.42 C110.31,808.21 113.16,810.00 115.43,810.98 C117.70,811.97 119.38,812.33 121.35,812.33 C123.32,812.33 125.00,811.97 127.27,810.98 C129.54,810.00 132.39,808.21 134.97,806.42 C137.54,804.63 140.16,802.31 142.74,800.25 C145.31,798.19 147.84,796.50 150.43,794.08 C153.02,791.67 156.30,787.97 158.28,785.76 C160.25,783.56 160.32,783.49 162.27,780.85 C164.22,778.22 167.53,773.53 169.97,769.93 C172.41,766.33 174.73,762.73 176.92,759.26 C179.12,755.78 181.20,752.45 183.14,749.06 C185.08,745.67 187.07,741.71 188.54,738.95 C190.01,736.18 190.39,735.89 191.95,732.45 C193.50,729.02 196.00,722.76 197.87,718.34 C199.73,713.92 201.79,709.20 203.12,705.94 C204.45,702.69 204.99,701.54 205.86,698.83 C206.72,696.13 207.71,693.04 208.30,689.71 C208.89,686.38 209.53,681.62 209.41,678.85 C209.29,676.07 208.58,675.09 207.56,673.08 C206.54,671.06 205.29,668.83 203.27,666.75 C201.25,664.66 198.66,662.22 195.42,660.55 C192.19,658.88 187.74,657.70 183.88,656.74 C180.02,655.77 176.52,655.27 172.26,654.75 C168.01,654.23 163.14,653.93 158.35,653.63 C153.56,653.33 149.72,653.25 143.55,652.95 C137.38,652.66 128.75,651.88 121.35,651.88 Z" fill="#d4edfa" stroke="#fff" stroke-opacity="0.9" stroke-width="0.85"/>
<path d="M121.35,651.88 C113.95,651.88 107.73,652.45 99.15,653.04 C90.57,653.62 77.06,654.40 69.86,655.37 C62.65,656.34 59.94,657.38 55.93,658.86 C51.92,660.33 48.38,662.21 45.80,664.22 C43.23,666.24 41.97,668.47 40.47,670.93 C38.97,673.39 37.26,676.07 36.80,678.98 C36.34,681.89 37.16,685.04 37.73,688.37 C38.30,691.70 39.31,696.01 40.25,698.94 C41.18,701.87 41.80,702.79 43.35,705.94 C44.91,709.10 47.18,713.88 49.57,717.88 C51.96,721.89 55.12,726.33 57.71,729.96 C60.30,733.58 62.40,736.31 65.11,739.62 C67.82,742.92 70.78,746.50 73.99,749.81 C77.20,753.12 80.65,756.07 84.35,759.47 C88.05,762.87 92.29,766.82 96.19,770.20 C100.09,773.58 104.26,777.40 107.73,779.75 C111.21,782.11 114.79,783.44 117.06,784.34 C119.33,785.24 119.92,785.15 121.35,785.15 C122.78,785.15 123.37,785.24 125.64,784.34 C127.91,783.44 131.49,782.11 134.97,779.75 C138.44,777.40 142.61,773.58 146.51,770.20 C150.41,766.82 154.65,762.87 158.35,759.47 C162.05,756.07 165.50,753.12 168.71,749.81 C171.92,746.50 174.88,742.92 177.59,739.62 C180.30,736.31 182.40,733.58 184.99,729.96 C187.58,726.33 190.74,721.89 193.13,717.88 C195.52,713.88 197.79,709.10 199.35,705.94 C200.90,702.79 201.52,701.87 202.45,698.94 C203.39,696.01 204.40,691.70 204.97,688.37 C205.54,685.04 206.36,681.89 205.90,678.98 C205.44,676.07 203.73,673.39 202.23,670.93 C200.73,668.47 199.47,666.24 196.90,664.22 C194.32,662.21 190.78,660.33 186.77,658.86 C182.76,657.38 180.05,656.34 172.84,655.37 C165.64,654.40 152.13,653.62 143.55,653.04 C134.97,652.45 128.75,651.88 121.35,651.88 Z" fill="#8cc9e5" stroke="#fff" stroke-opacity="0.9" stroke-width="0.85"/>
<path d="M121.35,651.88 C113.95,651.88 107.23,652.53 99.15,653.12 C91.07,653.70 79.50,654.41 72.89,655.37 C66.27,656.33 63.44,657.38 59.46,658.86 C55.47,660.33 51.62,662.21 48.98,664.22 C46.34,666.24 45.08,668.47 43.64,670.93 C42.19,673.39 40.60,676.07 40.30,678.98 C39.99,681.89 40.99,685.60 41.80,688.37 C42.61,691.14 44.22,693.85 45.13,695.61 C46.04,697.38 46.28,697.22 47.28,698.94 C48.27,700.66 49.14,703.37 51.12,705.94 C53.11,708.52 56.37,711.82 59.19,714.40 C62.01,716.97 65.11,719.14 68.07,721.37 C71.03,723.61 73.99,725.62 76.95,727.81 C79.91,730.00 82.87,732.15 85.83,734.52 C88.79,736.89 91.75,739.48 94.71,742.03 C97.67,744.58 100.75,747.53 103.59,749.81 C106.43,752.09 109.14,754.28 111.73,755.71 C114.32,757.14 117.53,757.93 119.13,758.40 C120.73,758.87 120.61,758.53 121.35,758.53 C122.09,758.53 121.97,758.87 123.57,758.40 C125.17,757.93 128.38,757.14 130.97,755.71 C133.56,754.28 136.27,752.09 139.11,749.81 C141.95,747.53 145.03,744.58 147.99,742.03 C150.95,739.48 153.91,736.89 156.87,734.52 C159.83,732.15 162.79,730.00 165.75,727.81 C168.71,725.62 171.67,723.61 174.63,721.37 C177.59,719.14 180.69,716.97 183.51,714.40 C186.33,711.82 189.59,708.52 191.58,705.94 C193.56,703.37 194.42,700.66 195.42,698.94 C196.42,697.22 196.66,697.38 197.57,695.61 C198.48,693.85 200.09,691.14 200.90,688.37 C201.71,685.60 202.71,681.89 202.40,678.98 C202.10,676.07 200.51,673.39 199.06,670.93 C197.62,668.47 196.36,666.24 193.72,664.22 C191.08,662.21 187.23,660.33 183.24,658.86 C179.26,657.38 176.43,656.33 169.81,655.37 C163.20,654.41 151.63,653.70 143.55,653.12 C135.47,652.53 128.75,651.88 121.35,651.88 Z" fill="#3aacd8" stroke="#fff" stroke-opacity="0.9" stroke-width="0.85"/>
<path d="M121.35,651.88 C113.95,651.88 106.66,652.62 99.15,653.20 C91.64,653.78 82.24,654.43 76.28,655.37 C70.32,656.31 67.36,657.38 63.41,658.86 C59.45,660.33 55.24,662.21 52.54,664.22 C49.83,666.24 48.57,668.47 47.18,670.93 C45.79,673.39 44.62,676.52 44.22,678.98 C43.81,681.44 44.24,683.68 44.76,685.69 C45.28,687.70 46.30,689.49 47.35,691.05 C48.40,692.62 49.78,693.87 51.05,695.08 C52.32,696.29 53.02,696.96 54.97,698.30 C56.92,699.64 60.41,701.63 62.74,703.13 C65.07,704.62 66.26,705.78 68.96,707.26 C71.66,708.73 76.37,710.70 78.95,711.98 C81.53,713.26 80.92,713.00 84.42,714.93 C87.93,716.86 95.43,721.08 99.96,723.54 C104.50,726.01 108.42,728.26 111.66,729.74 C114.89,731.23 117.74,731.93 119.35,732.45 C120.97,732.97 120.68,732.85 121.35,732.85 C122.02,732.85 121.73,732.97 123.35,732.45 C124.96,731.93 127.81,731.23 131.04,729.74 C134.28,728.26 138.20,726.01 142.74,723.54 C147.27,721.08 154.77,716.86 158.28,714.93 C161.78,713.00 161.17,713.26 163.75,711.98 C166.33,710.70 171.04,708.73 173.74,707.26 C176.44,705.78 177.63,704.62 179.96,703.13 C182.29,701.63 185.78,699.64 187.73,698.30 C189.68,696.96 190.38,696.29 191.65,695.08 C192.92,693.87 194.30,692.62 195.35,691.05 C196.40,689.49 197.42,687.70 197.94,685.69 C198.46,683.68 198.89,681.44 198.48,678.98 C198.08,676.52 196.91,673.39 195.52,670.93 C194.13,668.47 192.87,666.24 190.16,664.22 C187.46,662.21 183.25,660.33 179.29,658.86 C175.34,657.38 172.38,656.31 166.42,655.37 C160.46,654.43 151.06,653.78 143.55,653.20 C136.04,652.62 128.75,651.88 121.35,651.88 Z" fill="#188bc0" stroke="#fff" stroke-opacity="0.9" stroke-width="0.85"/>
<path d="M121.35,652.23 C113.95,652.23 106.22,652.53 99.15,653.09 C92.08,653.65 85.02,654.46 78.95,655.58 C72.88,656.71 66.74,658.37 62.74,659.85 C58.75,661.33 57.17,662.51 54.97,664.44 C52.78,666.37 50.85,669.04 49.57,671.44 C48.29,673.84 47.55,676.78 47.28,678.85 C47.00,680.91 47.18,682.19 47.94,683.81 C48.71,685.43 50.05,687.14 51.86,688.56 C53.68,689.98 55.97,691.11 58.82,692.34 C61.67,693.58 65.60,694.91 68.96,695.96 C72.31,697.01 76.37,697.86 78.95,698.65 C81.53,699.43 80.92,699.81 84.42,700.66 C87.93,701.51 94.80,702.98 99.96,703.74 C105.13,704.51 111.87,704.95 115.43,705.25 C118.99,705.55 119.38,705.54 121.35,705.54 C123.32,705.54 123.71,705.55 127.27,705.25 C130.83,704.95 137.57,704.51 142.74,703.74 C147.90,702.98 154.77,701.51 158.28,700.66 C161.78,699.81 161.17,699.43 163.75,698.65 C166.33,697.86 170.39,697.01 173.74,695.96 C177.10,694.91 181.03,693.58 183.88,692.34 C186.73,691.11 189.02,689.98 190.84,688.56 C192.65,687.14 193.99,685.43 194.76,683.81 C195.52,682.19 195.70,680.91 195.42,678.85 C195.15,676.78 194.41,673.84 193.13,671.44 C191.85,669.04 189.92,666.37 187.73,664.44 C185.53,662.51 183.95,661.33 179.96,659.85 C175.96,658.37 169.82,656.71 163.75,655.58 C157.68,654.46 150.62,653.65 143.55,653.09 C136.48,652.53 128.75,652.23 121.35,652.23 Z" fill="#0270a0" stroke="#fff" stroke-opacity="0.9" stroke-width="0.85"/>
<path d="M47.35,652.15 V839.96 M84.35,652.15 V839.96 M121.35,652.15 V839.96 M158.35,652.15 V839.96 M195.35,652.15 V839.96" stroke="#88d4f5" stroke-width="1.3" stroke-dasharray="2.7 2.3" fill="none" opacity="0.5" style="mix-blend-mode:multiply"/><path d="M10.35,678.98 H232.35 M10.35,705.81 H232.35 M10.35,732.64 H232.35 M10.35,759.47 H232.35 M10.35,786.30 H232.35 M10.35,813.13 H232.35" stroke="#88d4f5" stroke-width="1.3" stroke-dasharray="4 2.7" fill="none" opacity="0.5" style="mix-blend-mode:multiply"/>
</g>
<text class="lbl" transform="translate(123.20,701.87) scale(1.14,0.74)">0.2초이내</text>
<text class="lbl" transform="translate(123.20,724.14) scale(1.14,0.74)">0.3초이내</text>
<text class="lbl" transform="translate(123.20,746.68) scale(1.14,0.74)">0.4초이내</text>
<text class="lbl" transform="translate(123.20,772.97) scale(1.14,0.74)">0.5초이내</text>
<text class="lbl" transform="translate(123.20,800.07) scale(1.14,0.74)">0.7초이내</text>
<path d="M9.65,652.15 H233.05" stroke="#555" stroke-width="1.4"/>
<path d="M9.65,839.96 H233.05" stroke="#555" stroke-width="1.4"/>
<path d="M10.35,652.15 V839.96" stroke="#222" stroke-width="1.4"/>
<path d="M232.35,652.15 V839.96" stroke="#222" stroke-width="1.4"/>
<text class="tk" text-anchor="middle" transform="translate(10.65,852.36) scale(1.2,1)">-150</text>
<text class="tk" text-anchor="middle" transform="translate(47.65,852.36) scale(1.2,1)">-100</text>
<text class="tk" text-anchor="middle" transform="translate(84.65,852.36) scale(1.2,1)">-50</text>
<text class="tk" text-anchor="middle" transform="translate(121.65,852.36) scale(1.2,1)">0</text>
<text class="tk" text-anchor="middle" transform="translate(158.65,852.36) scale(1.2,1)">50</text>
<text class="tk" text-anchor="middle" transform="translate(195.65,852.36) scale(1.2,1)">100</text>
<text class="tk" text-anchor="middle" transform="translate(232.65,852.36) scale(1.2,1)">150</text>
<text class="tk" transform="translate(236.95,681.98) scale(1.2,1)">100</text>
<text class="tk" transform="translate(236.95,708.81) scale(1.2,1)">200</text>
<text class="tk" transform="translate(236.95,735.64) scale(1.2,1)">300</text>
<text class="tk" transform="translate(236.95,762.47) scale(1.2,1)">400</text>
<text class="tk" transform="translate(236.95,789.30) scale(1.2,1)">500</text>
<text class="tk" transform="translate(236.95,816.13) scale(1.2,1)">600</text>
<text class="tk" transform="translate(236.95,842.96) scale(1.2,1)">700</text>
<path d="M87.35,856.96 H156.35" stroke="#000" stroke-width="1.2"/>
<path d="M84.35,856.96 l5.5,-2 v4 Z M159.65,856.96 l-5.5,-2 v4 Z" fill="#000"/>
<text class="ax" transform="translate(125.05,866.46) scale(1.25,1)" text-anchor="middle">Radius. r(mm)</text>
<path d="M264.95,650.15 V709.15" stroke="#000" stroke-width="1.3"/>
<path d="M264.95,715.35 l-2.3,-6.2 h4.6 Z" fill="#000"/>
<text class="ax2" transform="translate(278.35,684.15) rotate(-90) scale(0.88,1)" text-anchor="middle">Distance. d(mm)</text>
<g transform="translate(121.35,652.15)">
<path d="M-4.6,-17.3 H6.2 L6.6,-15.2 H-5 Z" fill="#9a9a9a"/>
<path d="M-6.9,-12.4 L-4.2,-14.6 L-0.8,-15.6 H6.8 V-3.2 H-6.9 Z" fill="#050505"/>
<rect x="-6.7" y="-3.8" width="13.2" height="2.2" fill="#a8a8a8"/>
<rect x="-1.7" y="-8.7" width="3.9" height="3.4" fill="#9a9a9a"/>
<rect x="-1.1" y="-8.1" width="2.7" height="1.2" fill="#dcdcdc"/>
<rect x="-11.9" y="-16.6" width="4.6" height="7.9" fill="#f3f3f3" stroke="#c8c8c8" stroke-width="0.4"/>
<rect x="-11.7" y="-17.7" width="4.2" height="1.3" fill="#111"/>
<path d="M-20,-10.7 H-12 M-14.5,-12.1 L-17.2,-10.7 L-14.5,-9.3" stroke="#6a6a6a" stroke-width="1" fill="none"/>
</g>
<clipPath id="c4"><rect x="441.00" y="651.50" width="219.30" height="187.81"/></clipPath>
<g clip-path="url(#c4)">
<path d="M477.55,651.50 V839.31 M514.10,651.50 V839.31 M550.65,651.50 V839.31 M587.20,651.50 V839.31 M623.75,651.50 V839.31" stroke="#88d4f5" stroke-width="1.3" stroke-dasharray="2.7 2.3" fill="none"/><path d="M441.00,678.33 H660.30 M441.00,705.16 H660.30 M441.00,731.99 H660.30 M441.00,758.82 H660.30 M441.00,785.65 H660.30 M441.00,812.48 H660.30" stroke="#88d4f5" stroke-width="1.3" stroke-dasharray="4 2.7" fill="none"/>
<path d="M550.65,651.23 C543.34,651.23 536.88,651.61 528.72,652.30 C520.56,653.00 508.13,654.42 501.67,655.39 C495.22,656.36 493.88,656.75 489.98,658.10 C486.08,659.45 481.52,661.43 478.28,663.49 C475.04,665.56 472.21,668.02 470.53,670.50 C468.85,672.97 468.30,675.46 468.19,678.33 C468.08,681.20 469.05,684.59 469.87,687.72 C470.70,690.85 471.96,694.20 473.16,697.11 C474.37,700.02 475.04,701.58 477.11,705.16 C479.18,708.74 482.76,714.10 485.59,718.58 C488.42,723.05 491.22,727.70 494.07,731.99 C496.92,736.28 499.58,739.86 502.70,744.33 C505.82,748.80 509.79,754.48 512.78,758.82 C515.78,763.16 518.51,766.78 520.68,770.36 C522.85,773.93 523.97,776.84 525.80,780.28 C527.62,783.73 529.57,787.44 531.64,791.02 C533.72,794.59 536.03,798.75 538.22,801.75 C540.42,804.74 542.73,807.38 544.80,808.99 C546.87,810.60 548.70,811.41 550.65,811.41 C552.60,811.41 554.43,810.60 556.50,808.99 C558.57,807.38 560.88,804.74 563.08,801.75 C565.27,798.75 567.58,794.59 569.66,791.02 C571.73,787.44 573.68,783.73 575.50,780.28 C577.33,776.84 578.45,773.93 580.62,770.36 C582.79,766.78 585.52,763.16 588.52,758.82 C591.51,754.48 595.48,748.80 598.60,744.33 C601.72,739.86 604.38,736.28 607.23,731.99 C610.08,727.70 612.88,723.05 615.71,718.58 C618.54,714.10 622.12,708.74 624.19,705.16 C626.26,701.58 626.93,700.02 628.14,697.11 C629.34,694.20 630.60,690.85 631.43,687.72 C632.25,684.59 633.22,681.20 633.11,678.33 C633.00,675.46 632.45,672.97 630.77,670.50 C629.09,668.02 626.26,665.56 623.02,663.49 C619.78,661.43 615.22,659.45 611.32,658.10 C607.42,656.75 606.08,656.36 599.63,655.39 C593.17,654.42 580.74,653.00 572.58,652.30 C564.42,651.61 557.96,651.23 550.65,651.23 Z" fill="#d4edfa" stroke="#fff" stroke-opacity="0.9" stroke-width="0.85"/>
<path d="M550.65,651.23 C543.34,651.23 536.88,651.68 528.72,652.44 C520.56,653.20 508.13,654.74 501.67,655.79 C495.22,656.84 493.63,657.31 489.98,658.74 C486.32,660.18 482.55,662.32 479.74,664.38 C476.94,666.44 474.63,668.76 473.16,671.09 C471.70,673.41 470.73,675.33 470.97,678.33 C471.21,681.33 472.92,685.71 474.63,689.06 C476.33,692.42 478.89,695.77 481.20,698.45 C483.52,701.14 485.85,701.94 488.51,705.16 C491.18,708.38 494.66,714.19 497.21,717.77 C499.77,721.35 501.67,723.75 503.87,726.62 C506.06,729.49 508.42,732.49 510.37,734.99 C512.32,737.50 513.87,739.31 515.56,741.65 C517.26,743.98 518.83,746.81 520.53,749.00 C522.24,751.19 524.11,752.86 525.80,754.80 C527.48,756.73 528.65,757.80 530.62,760.59 C532.59,763.38 535.45,768.14 537.64,771.51 C539.83,774.88 541.61,778.59 543.78,780.79 C545.95,782.99 548.36,784.71 550.65,784.71 C552.94,784.71 555.35,782.99 557.52,780.79 C559.69,778.59 561.47,774.88 563.66,771.51 C565.85,768.14 568.71,763.38 570.68,760.59 C572.65,757.80 573.82,756.73 575.50,754.80 C577.19,752.86 579.06,751.19 580.77,749.00 C582.47,746.81 584.04,743.98 585.74,741.65 C587.43,739.31 588.98,737.50 590.93,734.99 C592.88,732.49 595.24,729.49 597.43,726.62 C599.63,723.75 601.53,721.35 604.09,717.77 C606.64,714.19 610.12,708.38 612.78,705.16 C615.45,701.94 617.78,701.14 620.10,698.45 C622.41,695.77 624.97,692.42 626.67,689.06 C628.38,685.71 630.09,681.33 630.33,678.33 C630.57,675.33 629.60,673.41 628.14,671.09 C626.67,668.76 624.36,666.44 621.56,664.38 C618.75,662.32 614.98,660.18 611.32,658.74 C607.67,657.31 606.08,656.84 599.63,655.79 C593.17,654.74 580.74,653.20 572.58,652.44 C564.42,651.68 557.96,651.23 550.65,651.23 Z" fill="#8cc9e5" stroke="#fff" stroke-opacity="0.9" stroke-width="0.85"/>
<path d="M550.65,651.23 C543.34,651.23 536.88,651.75 528.72,652.57 C520.56,653.40 508.13,655.08 501.67,656.20 C495.22,657.31 493.39,657.83 489.98,659.28 C486.57,660.73 483.64,662.86 481.20,664.91 C478.77,666.97 476.62,669.39 475.36,671.62 C474.09,673.86 473.24,675.42 473.60,678.33 C473.97,681.24 475.80,685.71 477.55,689.06 C479.30,692.42 481.94,695.77 484.13,698.45 C486.32,701.14 488.39,702.48 490.71,705.16 C493.02,707.84 495.64,711.78 498.02,714.55 C500.39,717.32 503.01,719.69 504.96,721.79 C506.91,723.90 507.78,724.97 509.71,727.16 C511.65,729.35 514.14,732.08 516.59,734.94 C519.03,737.80 521.80,741.60 524.41,744.33 C527.01,747.06 529.65,749.38 532.23,751.31 C534.81,753.23 536.83,754.71 539.90,755.87 C542.97,757.03 547.07,758.28 550.65,758.28 C554.23,758.28 558.33,757.03 561.40,755.87 C564.47,754.71 566.49,753.23 569.07,751.31 C571.65,749.38 574.29,747.06 576.89,744.33 C579.50,741.60 582.27,737.80 584.71,734.94 C587.16,732.08 589.65,729.35 591.59,727.16 C593.52,724.97 594.39,723.90 596.34,721.79 C598.29,719.69 600.91,717.32 603.28,714.55 C605.66,711.78 608.28,707.84 610.59,705.16 C612.91,702.48 614.98,701.14 617.17,698.45 C619.36,695.77 622.00,692.42 623.75,689.06 C625.50,685.71 627.33,681.24 627.70,678.33 C628.06,675.42 627.21,673.86 625.94,671.62 C624.68,669.39 622.53,666.97 620.10,664.91 C617.66,662.86 614.73,660.73 611.32,659.28 C607.91,657.83 606.08,657.31 599.63,656.20 C593.17,655.08 580.74,653.40 572.58,652.57 C564.42,651.75 557.96,651.23 550.65,651.23 Z" fill="#3aacd8" stroke="#fff" stroke-opacity="0.9" stroke-width="0.85"/>
<path d="M550.65,651.23 C543.34,651.23 536.88,651.95 528.72,652.84 C520.56,653.74 508.79,655.07 501.67,656.60 C494.56,658.12 489.67,660.06 486.03,661.99 C482.39,663.92 481.30,665.60 479.82,668.19 C478.33,670.77 477.11,674.01 477.11,677.50 C477.11,680.98 478.28,685.37 479.82,689.09 C481.35,692.80 484.02,697.12 486.32,699.79 C488.62,702.47 490.90,703.19 493.63,705.16 C496.36,707.13 499.89,709.81 502.70,711.60 C505.50,713.39 507.47,714.17 510.44,715.89 C513.42,717.61 516.27,719.82 520.53,721.90 C524.80,723.99 531.50,726.79 536.03,728.39 C540.56,730.00 545.29,730.95 547.73,731.51 C550.16,732.06 549.68,731.72 550.65,731.72 C551.62,731.72 551.14,732.06 553.57,731.51 C556.01,730.95 560.74,730.00 565.27,728.39 C569.80,726.79 576.50,723.99 580.77,721.90 C585.03,719.82 587.88,717.61 590.86,715.89 C593.83,714.17 595.80,713.39 598.60,711.60 C601.41,709.81 604.94,707.13 607.67,705.16 C610.40,703.19 612.68,702.47 614.98,699.79 C617.28,697.12 619.95,692.80 621.48,689.09 C623.02,685.37 624.19,680.98 624.19,677.50 C624.19,674.01 622.97,670.77 621.48,668.19 C620.00,665.60 618.91,663.92 615.27,661.99 C611.63,660.06 606.74,658.12 599.63,656.60 C592.51,655.07 580.74,653.74 572.58,652.84 C564.42,651.95 557.96,651.23 550.65,651.23 Z" fill="#188bc0" stroke="#fff" stroke-opacity="0.9" stroke-width="0.85"/>
<path d="M550.65,652.30 C546.83,652.30 542.43,652.35 539.19,652.43 C535.95,652.52 533.69,652.64 531.21,652.81 C528.73,652.98 526.48,653.19 524.31,653.45 C522.13,653.70 520.10,654.00 518.15,654.33 C516.21,654.67 514.38,655.05 512.63,655.46 C510.89,655.88 509.25,656.34 507.70,656.84 C506.15,657.34 504.70,657.88 503.34,658.46 C501.97,659.04 500.71,659.66 499.53,660.32 C498.36,660.98 497.28,661.67 496.30,662.42 C495.32,663.16 494.43,663.94 493.64,664.77 C492.85,665.59 492.16,666.46 491.56,667.38 C490.97,668.31 490.47,669.27 490.08,670.32 C489.68,671.38 489.38,672.34 489.18,673.72 C488.98,675.10 488.86,677.38 488.88,678.60 C488.90,679.81 489.02,680.17 489.30,681.01 C489.58,681.86 490.00,682.78 490.55,683.67 C491.11,684.57 491.80,685.48 492.62,686.37 C493.44,687.27 494.39,688.17 495.47,689.04 C496.54,689.92 497.74,690.78 499.05,691.62 C500.36,692.45 501.79,693.27 503.31,694.05 C504.83,694.84 506.47,695.59 508.18,696.31 C509.89,697.02 511.71,697.70 513.58,698.34 C515.46,698.97 517.42,699.57 519.43,700.11 C521.43,700.66 523.51,701.16 525.60,701.61 C527.70,702.06 529.86,702.45 532.00,702.80 C534.15,703.14 536.34,703.43 538.48,703.66 C540.62,703.89 542.83,704.06 544.86,704.18 C546.89,704.30 548.72,704.36 550.65,704.36 C552.58,704.36 554.41,704.30 556.44,704.18 C558.47,704.06 560.68,703.89 562.82,703.66 C564.96,703.43 567.15,703.14 569.30,702.80 C571.44,702.45 573.60,702.06 575.70,701.61 C577.79,701.16 579.87,700.66 581.87,700.11 C583.88,699.57 585.84,698.97 587.72,698.34 C589.59,697.70 591.41,697.02 593.12,696.31 C594.83,695.59 596.47,694.84 597.99,694.05 C599.51,693.27 600.94,692.45 602.25,691.62 C603.56,690.78 604.76,689.92 605.83,689.04 C606.91,688.17 607.86,687.27 608.68,686.37 C609.50,685.48 610.19,684.57 610.75,683.67 C611.30,682.78 611.72,681.86 612.00,681.01 C612.28,680.17 612.40,679.81 612.42,678.60 C612.44,677.38 612.32,675.10 612.12,673.72 C611.92,672.34 611.62,671.38 611.22,670.32 C610.83,669.27 610.33,668.31 609.74,667.38 C609.14,666.46 608.45,665.59 607.66,664.77 C606.87,663.94 605.98,663.16 605.00,662.42 C604.02,661.67 602.94,660.98 601.77,660.32 C600.59,659.66 599.33,659.04 597.96,658.46 C596.60,657.88 595.15,657.34 593.60,656.84 C592.05,656.34 590.41,655.88 588.67,655.46 C586.92,655.05 585.09,654.67 583.15,654.33 C581.20,654.00 579.17,653.70 576.99,653.45 C574.82,653.19 572.57,652.98 570.09,652.81 C567.61,652.64 565.35,652.52 562.11,652.43 C558.87,652.35 554.47,652.30 550.65,652.30 Z" fill="#0270a0" stroke="#fff" stroke-opacity="0.9" stroke-width="0.85"/>
<path d="M477.55,651.50 V839.31 M514.10,651.50 V839.31 M550.65,651.50 V839.31 M587.20,651.50 V839.31 M623.75,651.50 V839.31" stroke="#88d4f5" stroke-width="1.3" stroke-dasharray="2.7 2.3" fill="none" opacity="0.5" style="mix-blend-mode:multiply"/><path d="M441.00,678.33 H660.30 M441.00,705.16 H660.30 M441.00,731.99 H660.30 M441.00,758.82 H660.30 M441.00,785.65 H660.30 M441.00,812.48 H660.30" stroke="#88d4f5" stroke-width="1.3" stroke-dasharray="4 2.7" fill="none" opacity="0.5" style="mix-blend-mode:multiply"/>
</g>
<text class="lbl" transform="translate(552.48,700.68) scale(1.14,0.74)">0.2초이내</text>
<text class="lbl" transform="translate(552.48,723.76) scale(1.14,0.74)">0.3초이내</text>
<text class="lbl" transform="translate(552.48,747.10) scale(1.14,0.74)">0.4초이내</text>
<text class="lbl" transform="translate(552.48,765.88) scale(1.14,0.74)">0.5초이내</text>
<text class="lbl" transform="translate(552.48,792.98) scale(1.14,0.74)">0.7초이내</text>
<path d="M440.30,651.50 H661.00" stroke="#555" stroke-width="1.4"/>
<path d="M440.30,839.31 H661.00" stroke="#555" stroke-width="1.4"/>
<path d="M441.00,651.50 V839.31" stroke="#222" stroke-width="1.4"/>
<path d="M660.30,651.50 V839.31" stroke="#222" stroke-width="1.4"/>
<text class="tk" text-anchor="middle" transform="translate(441.30,851.71) scale(1.2,1)">-150</text>
<text class="tk" text-anchor="middle" transform="translate(477.85,851.71) scale(1.2,1)">-100</text>
<text class="tk" text-anchor="middle" transform="translate(514.40,851.71) scale(1.2,1)">-50</text>
<text class="tk" text-anchor="middle" transform="translate(550.95,851.71) scale(1.2,1)">0</text>
<text class="tk" text-anchor="middle" transform="translate(587.50,851.71) scale(1.2,1)">50</text>
<text class="tk" text-anchor="middle" transform="translate(624.05,851.71) scale(1.2,1)">100</text>
<text class="tk" text-anchor="middle" transform="translate(660.60,851.71) scale(1.2,1)">150</text>
<text class="tk" transform="translate(664.90,681.33) scale(1.2,1)">100</text>
<text class="tk" transform="translate(664.90,708.16) scale(1.2,1)">200</text>
<text class="tk" transform="translate(664.90,734.99) scale(1.2,1)">300</text>
<text class="tk" transform="translate(664.90,761.82) scale(1.2,1)">400</text>
<text class="tk" transform="translate(664.90,788.65) scale(1.2,1)">500</text>
<text class="tk" transform="translate(664.90,815.48) scale(1.2,1)">600</text>
<text class="tk" transform="translate(664.90,842.31) scale(1.2,1)">700</text>
<path d="M517.10,856.31 H585.20" stroke="#000" stroke-width="1.2"/>
<path d="M514.10,856.31 l5.5,-2 v4 Z M588.50,856.31 l-5.5,-2 v4 Z" fill="#000"/>
<text class="ax" transform="translate(554.30,865.81) scale(1.25,1)" text-anchor="middle">Radius. r(mm)</text>
<path d="M692.90,649.50 V708.50" stroke="#000" stroke-width="1.3"/>
<path d="M692.90,714.70 l-2.3,-6.2 h4.6 Z" fill="#000"/>
<text class="ax2" transform="translate(706.30,683.50) rotate(-90) scale(0.88,1)" text-anchor="middle">Distance. d(mm)</text>
<g transform="translate(550.65,651.50)">
<path d="M-4.6,-17.3 H6.2 L6.6,-15.2 H-5 Z" fill="#9a9a9a"/>
<path d="M-6.9,-12.4 L-4.2,-14.6 L-0.8,-15.6 H6.8 V-3.2 H-6.9 Z" fill="#050505"/>
<rect x="-6.7" y="-3.8" width="13.2" height="2.2" fill="#a8a8a8"/>
<rect x="-1.7" y="-8.7" width="3.9" height="3.4" fill="#9a9a9a"/>
<rect x="-1.1" y="-8.1" width="2.7" height="1.2" fill="#dcdcdc"/>
<rect x="-11.9" y="-16.6" width="4.6" height="7.9" fill="#f3f3f3" stroke="#c8c8c8" stroke-width="0.4"/>
<rect x="-11.7" y="-17.7" width="4.2" height="1.3" fill="#111"/>
<path d="M-20,-10.7 H-12 M-14.5,-12.1 L-17.2,-10.7 L-14.5,-9.3" stroke="#6a6a6a" stroke-width="1" fill="none"/>
</g>
</svg>
<div class="foot">★ 본 DATA는 실제측정값입니다. (±1000V ~ ±100V / 27℃, 35%)</div>
</body>
</html>
